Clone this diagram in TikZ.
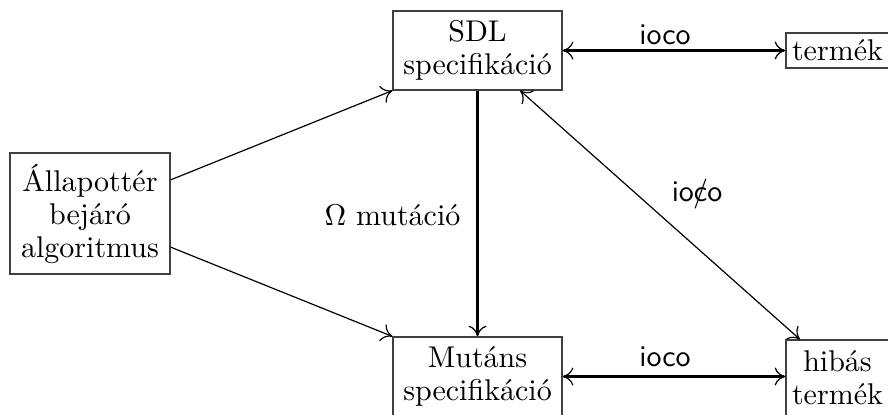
\documentclass[tikz,border=0pt]{standalone}
\usetikzlibrary{calc,arrows.meta}
\begin{document}
\begin{tikzpicture}[x=0.3333pt,y=-0.3333pt,
  >={To[line width=0.4pt,length=3.6pt,width=6pt]},
  box/.style={draw=black!75,line width=0.4pt,align=center,inner sep=0pt},
  thinarrow/.style={line width=0.4pt},
  thickarrow/.style={line width=0.8pt},
  lbl/.style={font=\sffamily}]
\useasboundingbox (0,0) rectangle (888,414);

% boxes
\node[box,minimum width=56.3pt,minimum height=26.3pt] (sdl) at (477.5,50.5) {SDL\\[-1pt]specifikáció};
\node[box,minimum width=34.3pt,minimum height=11.7pt] (term) at (837.5,50.5) {termék};
\node[box,minimum width=53.3pt,minimum height=40.3pt] (all) at (90,213.5) {Állapottér\\[-1pt]bejáró\\[-1pt]algoritmus};
\node[box,minimum width=56.3pt,minimum height=26.3pt] (mut) at (477.5,376.5) {Mutáns\\[-1pt]specifikáció};
\node[box,minimum width=34.3pt,minimum height=25.3pt] (hib) at (837.5,378) {hibás\\[-1pt]termék};

% connectors
\draw[thickarrow,<->] (sdl.east) -- (term.west);
\draw[thickarrow,<->] (mut.east) -- (mut.east -| hib.west);
\draw[thickarrow,->] (sdl.south) -- (mut.north);
\draw[thinarrow,<->] ([xshift=14.2pt]sdl.south) -- ([xshift=-12.5pt]hib.north);
\draw[thinarrow,->] ([yshift=11.2pt]all.east) -- (sdl.south west);
\draw[thinarrow,->] ([yshift=-11.2pt]all.east) -- (mut.north west);

% labels
\node[lbl] (l1) at (665,35) {ioco};
\node[lbl] (l2) at (665,357) {ioco};
\node[lbl] (l3) at (697,190) {io\ooalign{\hidewidth/\hidewidth\cr c}o};
\node[anchor=east] (l4) at (471,215) {$\Omega$ mutáció};
\end{tikzpicture}
\end{document}
